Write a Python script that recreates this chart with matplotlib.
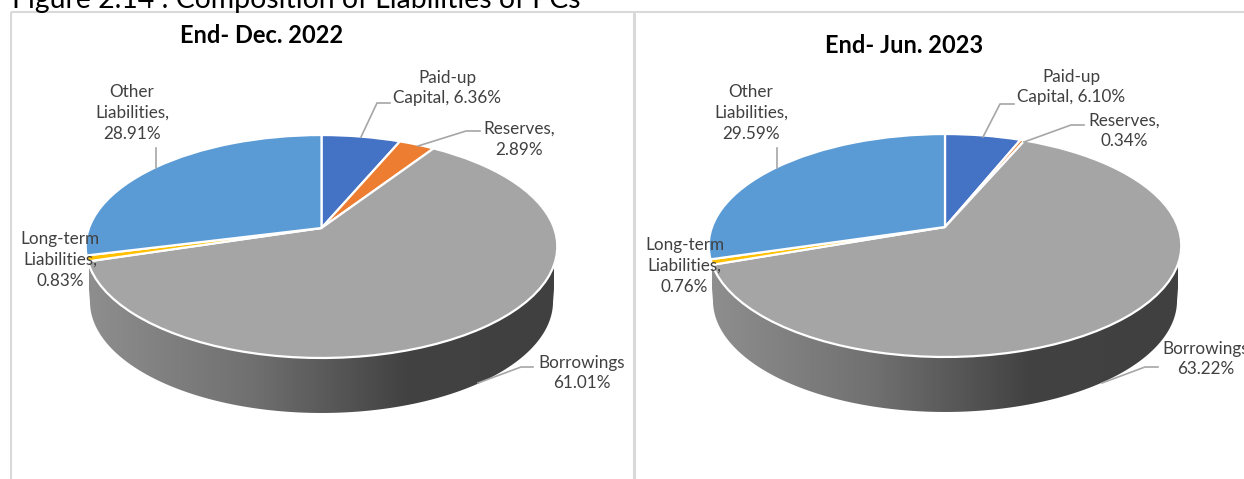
import numpy as np
import matplotlib
matplotlib.use('Agg')
import matplotlib.pyplot as plt
from matplotlib.colors import LinearSegmentedColormap
from matplotlib.patches import Polygon
from matplotlib.transforms import Transform

plt.rcParams['font.family'] = ['Lato', 'DejaVu Sans']

# data
categories = ['Paid-up Capital', 'Reserves', 'Borrowings', 'Long-term Liabilities', 'Other Liabilities']
dec_2022 = [6.36, 2.89, 61.01, 0.83, 28.91]
jun_2023 = [6.10, 0.34, 63.22, 0.76, 29.59]
colors = ['#4472C4', '#ED7D31', '#A5A5A5', '#FFC000', '#5B9BD5']

W, H = 1244, 479
GRID = '#D9D9D9'
LABEL = '#404040'
LEADER = '#A6A6A6'
K = 0.166   # perspective of the tilted pie
DEPTH = 55


class Tilt(Transform):
    # unit circle -> tilted disc in pixel coordinates
    input_dims = 2
    output_dims = 2
    is_separable = False

    def __init__(self, cx, cy, rx, ry):
        super().__init__()
        self.cx, self.cy, self.rx, self.ry = cx, cy, rx, ry

    def transform_non_affine(self, xy):
        xy = np.asarray(xy, float)
        d = 1 + K * xy[:, 1]
        return np.column_stack([self.cx + self.rx * xy[:, 0] / d,
                                self.cy - self.ry * xy[:, 1] / d])


fig = plt.figure(figsize=(W / 100, H / 100), dpi=100)
ax = fig.add_axes([0, 0, 1, 1])
wall_cmap = LinearSegmentedColormap.from_list(
    'wall', [(0, '#8E8E8E'), (0.35, '#707070'), (0.68, '#424242'), (1, '#404040')])


def draw_pie(values, cx, cy, rx, ry):
    tilt = Tilt(cx, cy, rx, ry)
    # side wall: front half of the rim and the same rim pushed down
    t = np.linspace(np.pi + 0.17, 2 * np.pi - 0.17, 200)
    rim = tilt.transform_non_affine(np.column_stack([np.cos(t), np.sin(t)]))
    low = rim.copy()
    low[:, 0] = cx + (low[:, 0] - cx) * 0.982
    low[:, 1] += DEPTH
    wall = Polygon(np.vstack([rim, low[::-1]]), closed=True, fc='none', ec='none')
    ax.add_patch(wall)
    im = ax.imshow(np.linspace(0, 1, 256)[None, :], cmap=wall_cmap, aspect='auto',
                   extent=(cx - rx, cx + rx, cy + 200, cy - 20), zorder=1)
    im.set_clip_path(wall)

    wedges, _ = ax.pie(values, colors=colors, startangle=90, counterclock=False,
                       wedgeprops=dict(edgecolor='white', linewidth=1.6))
    for w in wedges:
        w.set_transform(tilt + ax.transData)
        w.set_zorder(2)


draw_pie(dec_2022, 321.5, 228, 232.5, 108.4)
draw_pie(jun_2023, 945, 227, 233, 108.4)

ax.set_aspect('auto')
ax.set_xlim(0, W)
ax.set_ylim(H, 0)
ax.axis('off')

# chart frames
for xs, ys in [([11, 11], [12, H]), ([11, 1244], [12, 12])]:
    ax.plot(xs, ys, color=GRID, lw=1.5, zorder=0, solid_capstyle='butt')
ax.plot([633.5, 633.5], [12, H], color=GRID, lw=2.2, zorder=0, solid_capstyle='butt')

# leader lines
leaders = [
    [(361, 137), (377, 103), (390, 103)],
    [(418, 146), (466, 131), (480, 131)],
    [(156, 148), (156, 168)],
    [(478, 383), (521, 367), (533, 367)],
    [(983, 137), (1000, 104), (1014, 104)],
    [(1024, 142), (1071, 125), (1084, 125)],
    [(777, 148), (777, 168)],
    [(1102, 383), (1145, 367), (1158, 367)],
]
for pts in leaders:
    xs, ys = zip(*pts)
    ax.plot(xs, ys, color=LEADER, lw=1.2, zorder=3)

# labels
labels = [
    (447, 88, 'Paid-up\nCapital, 6.36%'),
    (519, 139.5, 'Reserves,\n2.89%'),
    (132, 113, 'Other\nLiabilities,\n28.91%'),
    (60, 260, 'Long-term\nLiabilities,\n0.83%'),
    (582, 373, 'Borrowings\n61.01%'),
    (1071, 87, 'Paid-up\nCapital, 6.10%'),
    (1124, 131, 'Reserves,\n0.34%'),
    (751, 113, 'Other\nLiabilities,\n29.59%'),
    (684.5, 266, 'Long-term\nLiabilities,\n0.76%'),
    (1206, 359, 'Borrowings\n63.22%'),
]
for x, y, s in labels:
    ax.text(x, y, s, ha='center', va='center', fontsize=12.3, color=LABEL, linespacing=1.38, zorder=4)

ax.text(262, 35, 'End- Dec. 2022', ha='center', va='center', fontsize=17, fontweight='bold', color='black')
ax.text(904, 45, 'End- Jun. 2023', ha='center', va='center', fontsize=17, fontweight='bold', color='black')
ax.text(12, 8, 'Figure 2.14 : Composition of Liabilities of PCs', ha='left', va='baseline',
        fontsize=20.4, color='black')

fig.savefig('out.png', dpi=100)
